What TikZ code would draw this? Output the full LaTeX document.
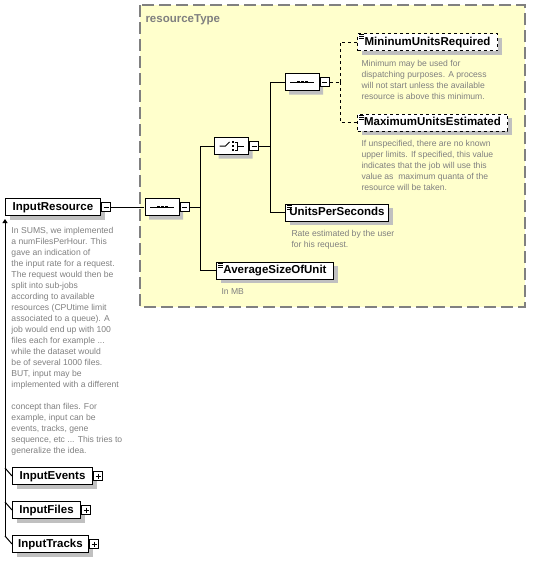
\documentclass[tikz,border=0pt]{standalone}
\usepackage{fontspec}
\setmainfont{Liberation Sans}
\usetikzlibrary{positioning,shapes.misc,shadows,arrows.meta}

\definecolor{typefill}{RGB}{255,255,204}
\definecolor{typeline}{RGB}{128,128,128}
\definecolor{doctext}{RGB}{128,128,128}
\definecolor{shade}{RGB}{192,192,192}

\tikzset{every picture/.style={line width=1pt}}
\tikzset{
  boxshadow/.style={drop shadow={shadow xshift=4pt,shadow yshift=-4pt,fill=shade,opacity=1}},
  elem/.style={draw,fill=white,rectangle,inner sep=0pt,minimum height=17pt,anchor=west,
    font=\fontsize{11.5}{12}\selectfont\bfseries,text height=8.5pt,text depth=2pt,boxshadow},
  optelem/.style={elem,dashed},
  compbox/.style={chamfered rectangle,chamfered rectangle xsep=5pt,chamfered rectangle ysep=4pt,
    draw,fill=white,minimum width=34pt,minimum height=17pt,inner sep=0pt,boxshadow},
  minusbox/.style={draw,fill=white,rectangle,minimum size=9pt,inner sep=0pt,
    path picture={\draw[shorten <=2pt,shorten >=2pt] (path picture bounding box.west) -- (path picture bounding box.east);}},
  plusbox/.style={draw,fill=white,rectangle,minimum size=9pt,inner sep=0pt,
    path picture={\draw[shorten <=2pt,shorten >=2pt] (path picture bounding box.west) -- (path picture bounding box.east);
      \draw[shorten <=2pt,shorten >=2pt] (path picture bounding box.north) -- (path picture bounding box.south);}},
  doc/.style={anchor=north west,inner sep=0pt,align=left,text=doctext,font=\fontsize{8.6}{11}\selectfont},
}

\begin{document}
\begin{tikzpicture}[x=1pt,y=1pt,yscale=-1,xscale=1]
\useasboundingbox (0,0) rectangle (534,562);

% complex type area
\draw[typeline,line width=1.5pt,dash pattern=on 12pt off 5pt,fill=typefill] (140,5) rectangle (525,307);
\node[anchor=base west,inner sep=0pt,text=typeline,font=\fontsize{11.5}{12}\selectfont\bfseries] (typelabel) at (145,22) {resourceType};

% root element
\node[elem,minimum width=95pt] (resource) at (5,207) {InputResource};
\node[minusbox,right=0pt of resource] (resourcem) {};
\node[doc] (resourcedoc) at (11,227) {In SUMS, we implemented\\a numFilesPerHour. This\\gave an indication of\\the input rate for a request.\\The request would then be\\split into sub-jobs\\according to available\\resources (CPUtime limit\\associated to a queue). A\\job would end up with 100\\files each for example ...\\while the dataset would\\be of several 1000 files.\\BUT, input may be\\implemented with a different\\\mbox{}\\concept than files. For\\example, input can be\\events, tracks, gene\\sequence, etc ... This tries to\\generalize the idea.};

% compositors
\node[compbox] (seqa) at (162,207) {};
\node[minusbox,right=0pt of seqa] (seqam) {};
\coordinate (ja) at (200,207);
\node[compbox] (cho) at (231.5,146) {};
\node[minusbox,right=0pt of cho] (chom) {};
\coordinate (jb) at (270,146);
\node[compbox] (seqb) at (302,82) {};
\node[minusbox,right=0pt of seqb] (seqbm) {};
\coordinate (jc) at (340,82);

% sequence and choice symbols
\foreach \c in {seqa,seqb}{
  \draw (\c.center) ++(-12,0) -- ++(24,0);
  \foreach \dx in {-4,0,4}
    \fill (\c.center) ++({\dx-1.5},-1) rectangle ++(3,2);
}
\draw (cho.center) ++(-12,0) -- ++(6,0) -- ++(4,-4);
\foreach \dy in {-4,0,4}
  \fill (cho.center) ++(0,{\dy-1}) rectangle ++(2,2);
\draw (cho.center) ++(3,-4) -- ++(3,0) -- ++(0,8) -- ++(-3,0);
\draw (cho.center) ++(6,0) -- ++(6,0);

% child elements
\node[optelem,minimum width=140pt] (minreq) at (357,42) {MininumUnitsRequired};
\node[doc] (minreqdoc) at (361,60) {Minimum may be used for\\dispatching purposes. A process\\will not start unless the available\\resource is above this minimum.};
\node[optelem,minimum width=150pt] (maxest) at (357,122.5) {MaximumUnitsEstimated};
\node[doc] (maxestdoc) at (361,140) {If unspecified, there are no known\\upper limits. If specified, this value\\indicates that the job will use this\\value as\ \ maximum quanta of the\\resource will be taken.};
\node[elem,minimum width=103pt] (ups) at (285,212.5) {UnitsPerSeconds};
\node[doc] (upsdoc) at (291,230) {Rate estimated by the user\\for his request.};
\node[elem,minimum width=117pt] (avg) at (216,270.5) {AverageSizeOfUnit};
\node[doc] (avgdoc) at (221,288) {In MB};

% simple content marks
\foreach \e in {minreq,maxest,ups,avg}
  \foreach \dy in {1.5,3.5,5.5}
    \draw[line width=0.8pt,solid] (\e.north west) ++(2,\dy) -- ++(5,0);

% connectors
\draw (resourcem) -- (seqa);
\draw (seqam) -- (ja);
\draw (ja) |- (cho);
\draw (ja) |- (avg);
\draw (chom) -- (jb);
\draw (jb) |- (seqb);
\draw (jb) |- (ups);
\draw[dashed] (seqbm) -- (jc);
\draw[dashed] (jc) |- (minreq);
\draw[dashed] (jc) |- (maxest);

% substitution group
\node[elem,minimum width=80pt] (events) at (12,476) {InputEvents};
\node[plusbox,right=0pt of events] (eventsp) {};
\node[elem,minimum width=68pt] (files) at (12,510) {InputFiles};
\node[plusbox,right=0pt of files] (filesp) {};
\node[elem,minimum width=76pt] (tracks) at (12,544) {InputTracks};
\node[plusbox,right=0pt of tracks] (tracksp) {};
\coordinate (bustop) at (5,219);
\coordinate (busbot) at (5,536);
\draw[-{Triangle[length=4pt,width=5pt]}] (busbot) -- (bustop);
\foreach \e in {events,files,tracks}
  \draw (\e.west) -- ++(-7,-8);

\end{tikzpicture}
\end{document}
